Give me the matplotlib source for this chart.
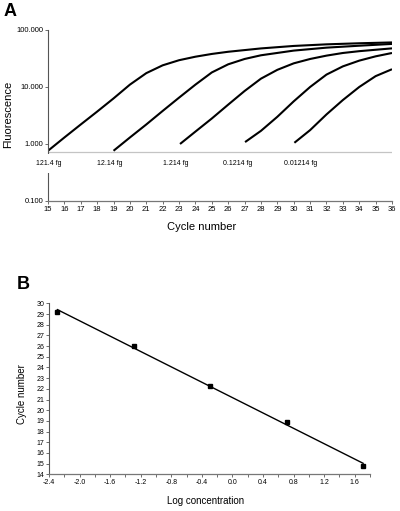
import numpy as np
import matplotlib
matplotlib.use('Agg')
import matplotlib.pyplot as plt

plt.rcParams['font.family'] = ['Liberation Sans', 'DejaVu Sans']

# Panel A: amplification curves (cycle, fluorescence)
cyc_121 = [15, 16, 17, 18, 19, 20, 21, 22, 23, 24, 25, 26, 28, 30, 32, 34, 36]
flu_121 = [0.76, 1.3, 2.2, 3.7, 6.3, 11, 17.5, 24, 29.5, 34, 38, 41.5, 47.5, 52.5, 56, 58.5, 60.5]
cyc_12 = [19, 20, 21, 22, 23, 24, 25, 26, 27, 28, 30, 32, 34, 36]
flu_12 = [0.76, 1.3, 2.2, 3.8, 6.5, 11, 18, 25, 31, 36, 43.5, 49, 53, 57]
cyc_1 = [23.06, 24, 25, 26, 27, 28, 29, 30, 31, 32, 33, 34, 35, 36]
flu_1 = [1.0, 1.65, 2.8, 4.9, 8.5, 14, 20, 26, 31, 35.5, 39.5, 42.5, 45, 47.6]
cyc_01 = [27.03, 28, 29, 30, 31, 32, 33, 34, 35, 36]
flu_01 = [1.08, 1.7, 3.0, 5.6, 10, 16.5, 23, 29, 34.5, 39.5]
cyc_001 = [30.04, 31, 32, 33, 34, 35, 36]
flu_001 = [1.05, 1.75, 3.3, 5.9, 10, 15.5, 20.5]

curves = [(cyc_121, flu_121), (cyc_12, flu_12), (cyc_1, flu_1),
          (cyc_01, flu_01), (cyc_001, flu_001)]
threshold = 0.72

amount_labels = ['121.4 fg', '12.14 fg', '1.214 fg', '0.1214 fg', '0.01214 fg']
amount_x = [15.05, 18.75, 22.8, 26.55, 30.4]
amount_y = 0.45

ytick_a = [0.1, 1, 10, 100]
ytick_a_labels = ['0.100', '1.000', '10.000', '100.000']

# Panel B: standard curve
log_conc = [-2.29, -1.29, -0.29, 0.71, 1.71]
ct = [29.2, 26.0, 22.25, 18.85, 14.8]

spine_col = '#555555'

fig = plt.figure(figsize=(4, 5.11), dpi=100)

# ---- panel A
ax = fig.add_axes([0.12, 0.6067, 0.86, 0.3346])
for c, f in curves:
    ax.plot(c, f, color='k', lw=1.5, solid_capstyle='butt')
ax.axhline(threshold, color='#c4c4c4', lw=0.9, zorder=1)
ax.set_yscale('log')
ax.set_ylim(0.1, 100)
ax.set_xlim(15, 36)
ax.set_xticks(range(15, 37))
ax.set_yticks(ytick_a)
ax.set_yticklabels(ytick_a_labels)
ax.minorticks_off()
for s in ['top', 'right']:
    ax.spines[s].set_visible(False)
ax.spines['left'].set_color(spine_col)
ax.spines['bottom'].set_color('#777777')
ax.spines['left'].set_linewidth(0.8)
ax.spines['bottom'].set_linewidth(0.9)
ax.tick_params(axis='both', labelsize=5.5, length=2, width=0.6, color=spine_col, pad=1.5)
for lab, xx in zip(amount_labels, amount_x):
    ax.text(xx, amount_y, lab, fontsize=5, ha='center', va='center', zorder=4,
            bbox=dict(boxstyle='square,pad=0.9', fc='white', ec='none'))
ax.set_xlabel('Cycle number', fontsize=8)
ax.xaxis.set_label_coords(0.448, -0.125)
ax.set_ylabel('Fluorescence', fontsize=8)
ax.yaxis.set_label_coords(-0.1, 0.506)
fig.text(0.01, 0.995, 'A', fontsize=13, fontweight='bold', va='top', ha='left')

# ---- panel B
bx = fig.add_axes([0.1225, 0.0718, 0.8025, 0.3346])
slope, icpt = np.polyfit(log_conc, ct, 1)
fit_x = np.array([log_conc[0], log_conc[-1]])
bx.plot(fit_x, slope * fit_x + icpt, color='k', lw=1.0)
bx.plot(log_conc, ct, 's', color='k', ms=2.6)
bx.set_xlim(-2.4, 1.8)
bx.set_ylim(14, 30)
bx.set_xticks(np.arange(-2.4, 1.81, 0.2))
bx.set_xticklabels(['%.1f' % v if i % 2 == 0 else '' for i, v in
                    enumerate(np.arange(-2.4, 1.81, 0.2))])
bx.set_yticks(range(14, 31))
for s in ['top', 'right']:
    bx.spines[s].set_visible(False)
bx.spines['left'].set_color(spine_col)
bx.spines['bottom'].set_color('#777777')
bx.spines['left'].set_linewidth(0.8)
bx.spines['bottom'].set_linewidth(0.9)
bx.tick_params(axis='both', labelsize=5, length=2, width=0.6, color=spine_col, pad=1.5)
bx.set_xlabel('Log concentration', fontsize=7)
bx.xaxis.set_label_coords(0.489, -0.125)
bx.set_ylabel('Cycle number', fontsize=7)
bx.yaxis.set_label_coords(-0.07, 0.47)
fig.text(0.042, 0.46, 'B', fontsize=13, fontweight='bold', va='top', ha='left')

fig.savefig('out.png', dpi=100)
